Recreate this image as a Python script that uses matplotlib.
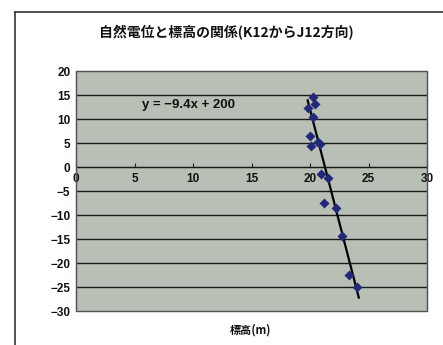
import matplotlib
matplotlib.use("Agg")
import matplotlib.pyplot as plt
import numpy as np
from matplotlib.patches import Rectangle
from matplotlib.lines import Line2D

plt.rcParams['font.family'] = ['Noto Sans CJK JP', 'DejaVu Sans']
NUM_FONT = ['Liberation Sans', 'DejaVu Sans']

title = "自然電位と標高の関係(K12からJ12方向)"
xlabel = "標高(m)"
x_vals = [20.28, 20.43, 19.8, 20.23, 20.0, 20.1, 20.65, 20.85, 20.94, 21.5, 21.2, 22.2, 22.7, 23.3, 24.05]
y_vals = [14.6, 13.1, 12.2, 10.5, 6.5, 4.4, 5.2, 4.7, -1.4, -2.2, -7.5, -8.5, -14.4, -22.6, -25.0]
slope = -9.4
intercept = 200
eq_text = "y = −9.4x + 200"
x_ticks = [0, 5, 10, 15, 20, 25, 30]
y_ticks = [20, 15, 10, 5, 0, -5, -10, -15, -20, -25, -30]

fig = plt.figure(figsize=(4.43, 3.45), dpi=100)
fig.patch.set_facecolor('white')

# chart area border
fig.add_artist(Line2D([15/443, 15/443], [0, 1-12/345], color='#333333', lw=1.2, transform=fig.transFigure))
fig.add_artist(Line2D([15/443, 1], [1-12/345, 1-12/345], color='#333333', lw=1.2, transform=fig.transFigure))

ax = fig.add_axes([76/443, 1-311/345, (427-76)/443, (311-71)/345])
ax.set_facecolor('#b8c0b6')
ax.set_xlim(0, 30)
ax.set_ylim(-30, 20)

for yv in y_ticks:
    if -30 < yv < 20:
        ax.axhline(yv, color='#1a1a1a', lw=1.0, zorder=1)

xs = np.array([min(x_vals), max(x_vals)+0.12])
ax.plot(xs, slope*xs + intercept, color='black', lw=1.6, zorder=3)
ax.scatter(x_vals, y_vals, marker='D', s=26, color='#22287a', zorder=4, linewidths=0)

ax.text(5.6, 13.0, eq_text, fontsize=9.5, color='#111111', va='center', ha='left',
        family=NUM_FONT, fontweight='bold')

ax.set_yticks(y_ticks)
ax.set_yticklabels([str(v).replace('-', '−') for v in y_ticks], fontsize=8.5, color='#111111',
                   family=NUM_FONT, fontweight='bold')
ax.tick_params(axis='y', length=0, pad=4)

ax.set_xticks(x_ticks)
ax.set_xticklabels([])
ax.tick_params(axis='x', direction='in', length=3, color='#222222')
ax.spines['bottom'].set_position(('data', 0))
ax.spines['bottom'].set_color('#1a1a1a')
for xv in x_ticks:
    ax.text(xv, -1.2, str(xv), fontsize=8.5, ha='center', va='top', color='#111111',
            family=NUM_FONT, fontweight='bold')

for s in ['top', 'right']:
    ax.spines[s].set_color('#777777')
ax.spines['left'].set_color('#333333')
ax.add_patch(Rectangle((0, 0), 1, 1, transform=ax.transAxes, fill=False, edgecolor='#555555', lw=1.0, zorder=5, clip_on=False))

fig.text(226/443, 1-33/345, title, fontsize=10, fontweight='bold', ha='center', va='center', color='#111111')
fig.text(250/443, 1-330/345, xlabel, fontsize=8, fontweight='bold', ha='center', va='center', color='#111111')

fig.savefig('out.png', dpi=100)
